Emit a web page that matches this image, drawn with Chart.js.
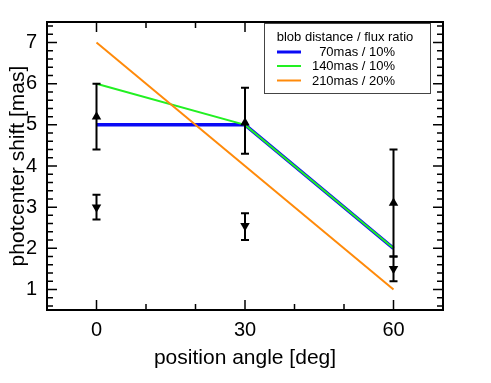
<!DOCTYPE html>
<html>
<head>
<meta charset="utf-8">
<script src="https://cdn.jsdelivr.net/npm/chart.js@4/dist/chart.umd.min.js"></script>
<style>
  body { margin: 0; background: #fff; }
  canvas { display: block; }
</style>
</head>
<body>
<canvas id="shiftChart" width="491" height="383"></canvas>
<script>
// position angle [deg]
const angles = [0, 30, 60];

// model curves: photocenter shift [mas]
const shift70 = [5, 5, 2];
const shift140 = [6, 5, 2];
const shift210 = [7, 4, 1];

// measurements (upward / downward triangles) with error ranges
const upValues = [5.2, 5.05, 3.1];
const upLow = [4.4, 4.3, 1.8];
const upHigh = [6.0, 5.9, 4.4];
const downValues = [3.0, 2.55, 1.5];
const downLow = [2.7, 2.2, 1.2];
const downHigh = [3.3, 2.85, 1.8];

const seriesLabels = ["70mas / 10%", "140mas / 10%", "210mas / 20%"];
const legendTitle = "blob distance / flux ratio";
const xTicks = [0, 30, 60];
const yTicks = [1, 2, 3, 4, 5, 6, 7];

const FONT = "'Liberation Sans', Arial, Helvetica, sans-serif";

function toPoints(xs, ys) {
    return xs.map((x, i) => ({ x: x, y: ys[i] }));
}

// frame with inward ticks on all four sides
const framePlugin = {
    id: "frame",
    afterDraw(chart) {
        const { ctx, chartArea: a, scales } = chart;
        const xs = scales.x, ys = scales.y;
        ctx.save();
        ctx.strokeStyle = "#000";
        ctx.lineWidth = 2;
        ctx.strokeRect(a.left, a.top, a.right - a.left, a.bottom - a.top);
        ctx.lineWidth = 1.5;
        ctx.beginPath();
        for (let v = -10; v <= 70; v += 10) {
            const px = xs.getPixelForValue(v);
            const len = v % 30 === 0 ? 10 : 6;
            ctx.moveTo(px, a.bottom); ctx.lineTo(px, a.bottom - len);
            ctx.moveTo(px, a.top); ctx.lineTo(px, a.top + len);
        }
        for (let i = 3; i <= 37; i++) {
            const v = i / 5;
            const py = ys.getPixelForValue(v);
            const len = i % 5 === 0 ? 10 : 6;
            ctx.moveTo(a.left, py); ctx.lineTo(a.left + len, py);
            ctx.moveTo(a.right, py); ctx.lineTo(a.right - len, py);
        }
        ctx.stroke();
        ctx.restore();
    }
};

// error bars drawn after the model lines, below the markers
const errorBarPlugin = {
    id: "errorBars",
    afterDatasetDraw(chart, args) {
        if (args.index !== 2) return;
        const { ctx, scales } = chart;
        ctx.save();
        ctx.strokeStyle = "#000";
        ctx.lineWidth = 2;
        const drawBar = (x, lo, hi) => {
            const px = scales.x.getPixelForValue(x);
            const pLo = scales.y.getPixelForValue(lo);
            const pHi = scales.y.getPixelForValue(hi);
            ctx.beginPath();
            ctx.moveTo(px, pLo); ctx.lineTo(px, pHi);
            ctx.moveTo(px - 4, pLo); ctx.lineTo(px + 4, pLo);
            ctx.moveTo(px - 4, pHi); ctx.lineTo(px + 4, pHi);
            ctx.stroke();
        };
        angles.forEach((x, i) => {
            drawBar(x, upLow[i], upHigh[i]);
            drawBar(x, downLow[i], downHigh[i]);
        });
        ctx.restore();
    }
};

// legend box inside the plot
const legendPlugin = {
    id: "boxLegend",
    afterDraw(chart) {
        const ctx = chart.ctx;
        const colors = chart.data.datasets.slice(0, 3).map(d => d.borderColor);
        const widths = [3, 2, 2];
        ctx.save();
        ctx.fillStyle = "#fff";
        ctx.fillRect(264, 23, 166, 70);
        ctx.strokeStyle = "#444";
        ctx.lineWidth = 1;
        ctx.strokeRect(264.5, 23.5, 166, 70);
        ctx.fillStyle = "#000";
        ctx.font = "13px " + FONT;
        ctx.textBaseline = "middle";
        ctx.textAlign = "center";
        ctx.fillText(legendTitle, 345, 37);
        const rows = [52, 66, 80.5];
        ctx.textAlign = "right";
        seriesLabels.forEach((lab, i) => {
            ctx.strokeStyle = colors[i];
            ctx.lineWidth = widths[i];
            ctx.beginPath();
            ctx.moveTo(277, rows[i]); ctx.lineTo(301, rows[i]);
            ctx.stroke();
            ctx.fillText(lab, 395, rows[i] + 0.5);
        });
        ctx.restore();
    }
};

new Chart(document.getElementById("shiftChart").getContext("2d"), {
    type: "line",
    data: {
        datasets: [
            { label: seriesLabels[0], data: toPoints(angles, shift70), borderColor: "#0a0af5", borderWidth: 3.5, pointRadius: 0, tension: 0, order: 3 },
            { label: seriesLabels[1], data: toPoints(angles, shift140), borderColor: "#22f022", borderWidth: 2, pointRadius: 0, tension: 0, order: 2 },
            { label: seriesLabels[2], data: toPoints(angles, shift210), borderColor: "#ff8a0a", borderWidth: 2, pointRadius: 0, tension: 0, order: 1 },
            { type: "scatter", label: "up", data: toPoints(angles, upValues), showLine: false, pointStyle: "triangle", pointRadius: 5.5, backgroundColor: "#000", borderColor: "#000", borderWidth: 0, order: 0 },
            { type: "scatter", label: "down", data: toPoints(angles, downValues), showLine: false, pointStyle: "triangle", rotation: 180, pointRadius: 5.5, backgroundColor: "#000", borderColor: "#000", borderWidth: 0, order: 0 }
        ]
    },
    options: {
        responsive: false,
        animation: false,
        layout: { padding: { top: 8, right: 48, left: 0, bottom: 0 } },
        plugins: { legend: { display: false }, tooltip: { enabled: false } },
        scales: {
            x: {
                type: "linear",
                min: -10,
                max: 70,
                grid: { display: false, drawTicks: false },
                border: { display: false },
                afterBuildTicks: s => { s.ticks = xTicks.map(v => ({ value: v })); },
                afterFit: s => { s.height = 73; },
                ticks: { color: "#000", font: { family: FONT, size: 20 }, padding: 8, maxRotation: 0 },
                title: { display: true, text: "position angle [deg]", color: "#000", font: { family: FONT, size: 21 }, padding: { top: 0, bottom: 12 } }
            },
            y: {
                min: 0.5,
                max: 7.5,
                grid: { display: false, drawTicks: false },
                border: { display: false },
                afterBuildTicks: s => { s.ticks = yTicks.map(v => ({ value: v })); },
                afterFit: s => { s.width = 47; },
                ticks: { color: "#000", font: { family: FONT, size: 20 }, padding: 10 },
                title: { display: true, text: "photcenter shift [mas]", color: "#000", font: { family: FONT, size: 21 }, padding: { top: 6, bottom: 0 } }
            }
        }
    },
    plugins: [framePlugin, errorBarPlugin, legendPlugin]
});
</script>
</body>
</html>
